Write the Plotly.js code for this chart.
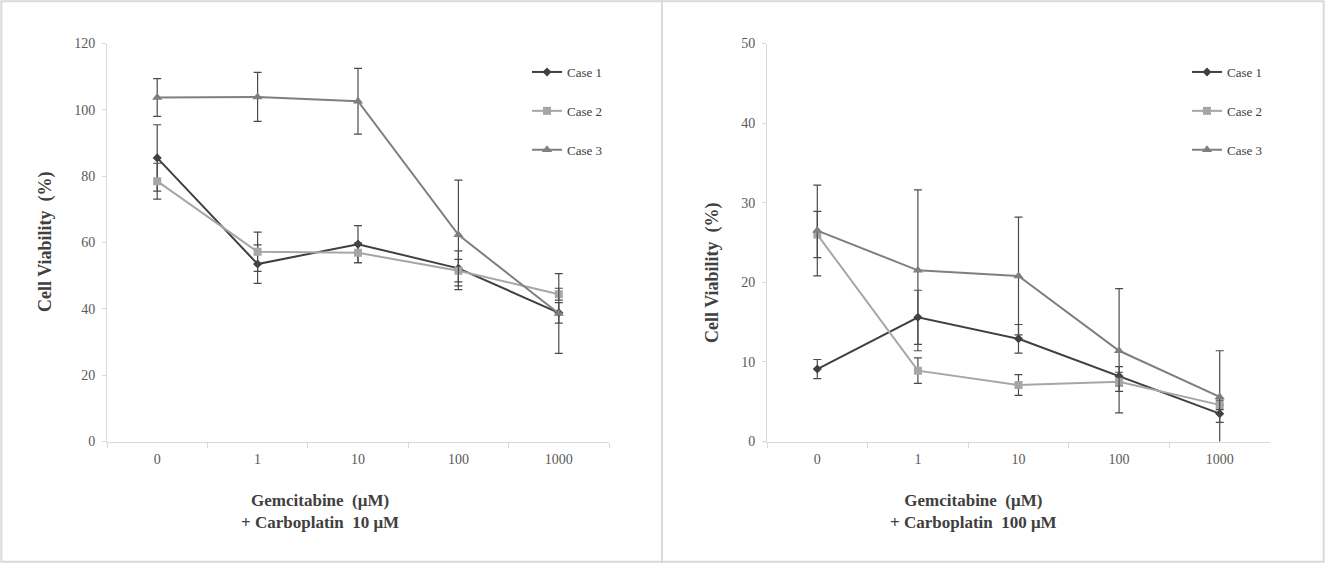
<!DOCTYPE html>
<html>
<head>
<meta charset="utf-8">
<script src="https://cdn.plot.ly/plotly-3.0.1.min.js"></script>
<style>
  html, body { margin: 0; padding: 0; background: #fff; }
  #chart { width: 1325px; height: 563px; }
</style>
</head>
<body>
<div id="chart"></div>
<script>
// gemcitabine doses (uM)
var doses = ['0', '1', '10', '100', '1000'];
var caseNames = ['Case 1', 'Case 2', 'Case 3'];

// + carboplatin 10 uM
var case1_c10 = [85.5, 53.5, 59.5, 52.2, 38.8];
var case1_c10_err = [10.0, 5.8, 5.6, 5.3, 3.1];
var case2_c10 = [78.5, 57.2, 56.9, 51.5, 44.4];
var case2_c10_err = [5.4, 5.9, 3.0, 3.4, 1.8];
var case3_c10 = [103.7, 103.9, 102.6, 62.3, 38.6];
var case3_c10_err = [5.7, 7.4, 9.9, 16.5, 12.0];

// + carboplatin 100 uM
var case1_c100 = [9.1, 15.6, 12.9, 8.2, 3.5];
var case1_c100_err = [1.2, 3.4, 1.8, 1.2, 1.1];
var case2_c100 = [26.0, 8.9, 7.1, 7.5, 4.6];
var case2_c100_err = [2.9, 1.6, 1.3, 1.2, 0.6];
var case3_c100 = [26.5, 21.5, 20.8, 11.4, 5.6];
var case3_c100_err = [5.7, 10.1, 7.4, 7.8, 5.8];

var lineColors = ['#404040', '#a6a6a6', '#7f7f7f'];
var symbols = ['diamond', 'square', 'triangle-up'];
var markerSizes = [7, 8, 9];
var errColor = '#4a4a4a';
var serif = 'Liberation Serif, Times New Roman, serif';

function series(i, y, err, xa, ya, legend) {
  return {
    x: doses, y: y,
    xaxis: xa, yaxis: ya,
    name: caseNames[i],
    legend: legend,
    legendgroup: legend + i,
    type: 'scatter', mode: 'lines+markers',
    line: {color: lineColors[i], width: 2},
    marker: {color: lineColors[i], symbol: symbols[i], size: markerSizes[i]},
    error_y: {type: 'data', array: err, visible: true, color: errColor, thickness: 1.2, width: 4}
  };
}

var data = [
  series(0, case1_c10, case1_c10_err, 'x', 'y', 'legend'),
  series(1, case2_c10, case2_c10_err, 'x', 'y', 'legend'),
  series(2, case3_c10, case3_c10_err, 'x', 'y', 'legend'),
  series(0, case1_c100, case1_c100_err, 'x2', 'y2', 'legend2'),
  series(1, case2_c100, case2_c100_err, 'x2', 'y2', 'legend2'),
  series(2, case3_c100, case3_c100_err, 'x2', 'y2', 'legend2')
];

var W = 1325, H = 563;
var yDom = [1 - 441.5 / H, 1 - 43.5 / H];

var xBase = {
  type: 'category', range: [-0.5, 4.5],
  showline: true, linecolor: '#d9d9d9', linewidth: 1,
  ticks: 'outside', tickson: 'boundaries', ticklen: 5, tickcolor: '#d9d9d9',
  showgrid: false, zeroline: false, fixedrange: true,
  tickfont: {family: serif, size: 14, color: '#595959'},
  ticklabelstandoff: 5
};
var yBase = {
  showline: true, linecolor: '#d9d9d9', linewidth: 1,
  ticks: 'outside', ticklen: 4, tickcolor: '#d9d9d9',
  showgrid: false, zeroline: false,
  tickfont: {family: serif, size: 14, color: '#595959'},
  ticklabelstandoff: 4
};

var legendBase = {
  font: {family: serif, size: 13, color: '#404040'},
  bgcolor: 'rgba(0,0,0,0)',
  traceorder: 'grouped', tracegroupgap: 19,
  itemwidth: 30,
  xanchor: 'left', yanchor: 'top'
};

var xTitleFont = {family: serif, size: 17, color: '#404040', weight: 'bold'};
var yTitleFont = {family: serif, size: 18, color: '#404040', weight: 'bold'};

var layout = {
  width: W, height: H,
  margin: {l: 0, r: 0, t: 0, b: 0},
  paper_bgcolor: '#fff', plot_bgcolor: '#fff',
  showlegend: true,
  xaxis: Object.assign({}, xBase, {domain: [107 / W, 609 / W], anchor: 'y'}),
  yaxis: Object.assign({}, yBase, {domain: yDom, range: [0, 120], dtick: 20, anchor: 'x'}),
  xaxis2: Object.assign({}, xBase, {domain: [767 / W, 1270 / W], anchor: 'y2'}),
  yaxis2: Object.assign({}, yBase, {domain: yDom, range: [0, 50], dtick: 10, anchor: 'x2'}),
  legend: Object.assign({}, legendBase, {x: 527 / W, y: 1 - 57 / H}),
  legend2: Object.assign({}, legendBase, {x: 1187 / W, y: 1 - 57 / H}),
  annotations: [
    {xref: 'paper', yref: 'paper', x: 45 / W, y: 1 - 242 / H, xanchor: 'center', yanchor: 'middle',
     text: 'Cell Viability  (%)', textangle: -90, showarrow: false, font: yTitleFont},
    {xref: 'paper', yref: 'paper', x: 712 / W, y: 1 - 272 / H, xanchor: 'center', yanchor: 'middle',
     text: 'Cell Viability  (%)', textangle: -90, showarrow: false, font: yTitleFont},
    {xref: 'paper', yref: 'paper', x: 320 / W, y: 1 - 511 / H, xanchor: 'center', yanchor: 'middle',
     text: 'Gemcitabine  (μM)<br>+ Carboplatin  10 μM', showarrow: false, font: xTitleFont, align: 'center'},
    {xref: 'paper', yref: 'paper', x: 973 / W, y: 1 - 511 / H, xanchor: 'center', yanchor: 'middle',
     text: 'Gemcitabine  (μM)<br>+ Carboplatin  100 μM', showarrow: false, font: xTitleFont, align: 'center'}
  ],
  shapes: [
    {type: 'rect', xref: 'paper', yref: 'paper', x0: 0.001, x1: 0.999, y0: 0.002, y1: 0.998,
     line: {color: '#d9d9d9', width: 2}},
    {type: 'line', xref: 'paper', yref: 'paper', x0: 662 / W, x1: 662 / W, y0: 0, y1: 1,
     line: {color: '#d9d9d9', width: 2}}
  ]
};

Plotly.newPlot('chart', data, layout, {displayModeBar: false, staticPlot: true});
</script>
</body>
</html>
